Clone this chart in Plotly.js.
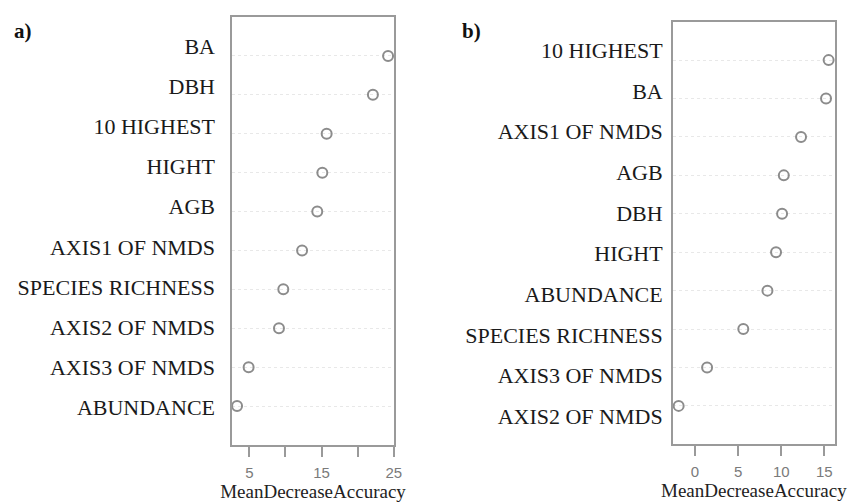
<!DOCTYPE html>
<html>
<head>
<meta charset="utf-8">
<script src="https://cdn.plot.ly/plotly-3.0.1.min.js"></script>
<style>html,body{margin:0;padding:0;background:#fff;}#chart{width:847px;height:502px;}</style>
</head>
<body>
<div id="chart"></div>
<script>
// Panel a) data
const labelsA = ['BA','DBH','10 HIGHEST','HIGHT','AGB','AXIS1 OF NMDS','SPECIES RICHNESS','AXIS2 OF NMDS','AXIS3 OF NMDS','ABUNDANCE'];
const valuesA = [24.2, 22.1, 15.7, 15.1, 14.4, 12.3, 9.7, 9.1, 4.9, 3.3];
const ticksA = [5, 10, 15, 20, 25];
const tickTextA = ['5', '', '15', '', '25'];

// Panel b) data
const labelsB = ['10 HIGHEST','BA','AXIS1 OF NMDS','AGB','DBH','HIGHT','ABUNDANCE','SPECIES RICHNESS','AXIS3 OF NMDS','AXIS2 OF NMDS'];
const valuesB = [15.5, 15.2, 12.3, 10.3, 10.1, 9.4, 8.4, 5.6, 1.4, -1.9];
const ticksB = [0, 5, 10, 15];
const tickTextB = ['0', '5', '10', '15'];

const axisTitle = 'MeanDecreaseAccuracy';

const W = 847, H = 502;
const px = v => v / W;
const py = v => 1 - v / H;

const serif = '"Liberation Serif", "Times New Roman", serif';
const sans = '"Liberation Sans", Arial, sans-serif';
const frame = '#9a9a9a';
const dotColor = '#8c8c8c';

function dotTrace(x, y, xa, ya, visible) {
  return {
    type: 'scatter', mode: 'markers', x: x, y: y, xaxis: xa, yaxis: ya,
    marker: {symbol: 'circle-open', size: 10, color: dotColor, opacity: visible ? 1 : 0, line: {width: 2, color: dotColor}},
    hoverinfo: visible ? 'x+y' : 'skip', showlegend: false, cliponaxis: false
  };
}

const data = [
  dotTrace(valuesA, labelsA, 'x', 'y', true),
  dotTrace(valuesB, labelsB, 'x2', 'y2', true),
  dotTrace(valuesA, labelsA, 'x3', 'y3', false),
  dotTrace(valuesB, labelsB, 'x4', 'y4', false)
];

function xAxis(domain, range, tv, tt, anchor) {
  return {
    domain: domain, range: range, anchor: anchor,
    tickmode: 'array', tickvals: tv, ticktext: tt,
    ticks: 'outside', ticklen: 10, tickwidth: 2, tickcolor: frame,
    ticklabelstandoff: 3,
    showline: true, mirror: true, linecolor: frame, linewidth: 2,
    showgrid: false, zeroline: false,
    tickfont: {family: sans, size: 15, color: '#7a7a7a'},
    title: {text: axisTitle, font: {family: serif, size: 19, color: '#222'}, standoff: 4}
  };
}
function yAxis(domain, cats, anchor) {
  return {
    domain: domain, anchor: anchor, type: 'category',
    categoryorder: 'array', categoryarray: cats, range: [10, -1],
    showline: true, mirror: true, linecolor: frame, linewidth: 2,
    showgrid: true, gridcolor: '#e8e8e8', griddash: 'dot', gridwidth: 1,
    showticklabels: false, ticks: '', zeroline: false
  };
}
function labelYAxis(domain, cats, anchor, standoff) {
  return {
    domain: domain, anchor: anchor, type: 'category',
    categoryorder: 'array', categoryarray: cats, range: [9.5, -0.5],
    showline: false, showgrid: false, zeroline: false, ticks: '',
    ticklabelstandoff: standoff,
    tickfont: {family: serif, size: 22, color: '#1a1a1a'}
  };
}
function hiddenX(domain, range, anchor) {
  return {domain: domain, range: range, anchor: anchor, visible: false, showgrid: false, zeroline: false};
}

const domXA = [px(232), px(394)];
const domXB = [px(672.7), px(835)];
const rangeA = [2.6, 25.02];
const rangeB = [-2.59, 16.24];

const layout = {
  width: W, height: H,
  margin: {l: 0, r: 0, t: 0, b: 0},
  paper_bgcolor: '#fff', plot_bgcolor: 'rgba(0,0,0,0)',
  showlegend: false,
  xaxis: xAxis(domXA, rangeA, ticksA, tickTextA, 'y'),
  yaxis: yAxis([py(445), py(17)], labelsA, 'x'),
  xaxis2: xAxis(domXB, rangeB, ticksB, tickTextB, 'y2'),
  yaxis2: yAxis([py(444.3), py(21.7)], labelsB, 'x2'),
  xaxis3: hiddenX(domXA, rangeA, 'y3'),
  yaxis3: labelYAxis([py(427.8), py(25.95)], labelsA, 'x3', 16),
  xaxis4: hiddenX(domXB, rangeB, 'y4'),
  yaxis4: labelYAxis([py(436.75), py(29.75)], labelsB, 'x4', 9),
  annotations: [
    {text: '<b>a)</b>', xref: 'paper', yref: 'paper', x: px(12), y: py(17), xanchor: 'left', yanchor: 'top', showarrow: false, font: {family: serif, size: 21, color: '#111'}},
    {text: '<b>b)</b>', xref: 'paper', yref: 'paper', x: px(460), y: py(17), xanchor: 'left', yanchor: 'top', showarrow: false, font: {family: serif, size: 21, color: '#111'}}
  ]
};

Plotly.newPlot('chart', data, layout, {displayModeBar: false, staticPlot: true});
</script>
</body>
</html>
